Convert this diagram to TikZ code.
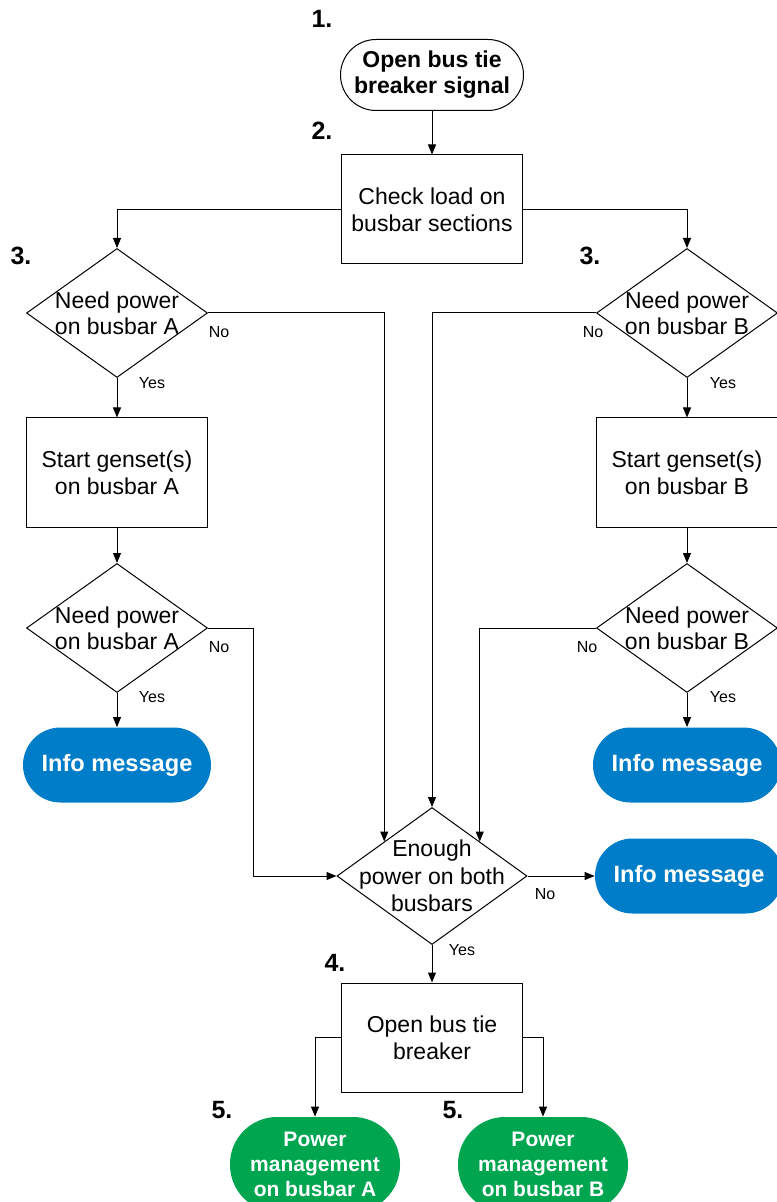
\documentclass[tikz,border=0pt]{standalone}
\usepackage{fontspec}
\setmainfont{Liberation Sans}
\usepackage{tikz}
\usetikzlibrary{positioning,arrows.meta,shapes.geometric}
\definecolor{infoblue}{RGB}{0,125,200}
\definecolor{pmgreen}{RGB}{0,165,80}

\begin{document}
\begin{tikzpicture}[x=0.5pt,y=-0.5pt,
    line/.style={draw=black,line width=0.5pt},
    arr/.style={line,-{Triangle[length=5pt,width=4pt]}},
    process/.style={draw,line width=0.5pt,minimum width=90.5pt,minimum height=54.5pt,inner sep=0pt,align=center,font=\fontsize{11.5}{13.5}\selectfont},
    decision/.style={draw,line width=0.5pt,diamond,minimum width=90.5pt,minimum height=64.5pt,inner sep=0pt},
    dtext/.style={align=center,inner sep=0pt,font=\fontsize{11.5}{13}\selectfont},
    startend/.style={draw,line width=0.5pt,rounded corners=17.75pt,minimum width=91.5pt,minimum height=35.5pt,inner sep=0pt,align=center,font=\fontsize{11.5}{13}\selectfont\bfseries},
    info/.style={fill=infoblue,text=white,rounded corners=18.75pt,minimum width=94pt,minimum height=37.5pt,inner sep=0pt,font=\fontsize{11.8}{13}\selectfont\bfseries},
    pm/.style={fill=pmgreen,text=white,rounded corners=23.5pt,minimum width=85pt,minimum height=47.5pt,inner sep=0pt,align=center,font=\fontsize{10.5}{12.5}\selectfont\bfseries},
    yn/.style={inner sep=0pt,font=\fontsize{8}{9}\selectfont},
    stepnum/.style={inner sep=0pt,font=\fontsize{12.5}{14}\selectfont\bfseries}]
    \useasboundingbox (0,0) rectangle (776,1202);

    % top
    \node[startend] (start) at (432,75) {Open bus tie\\breaker signal};
    \node[process] (check) at (432,209.5) {Check load on\\busbar sections};

    % busbar A side
    \node[decision] (qa1) at (117,313) {};
    \node[dtext] at (qa1) {Need power\\on busbar A};
    \node[process] (sa) at (117,472.5) {Start genset(s)\\on busbar A};
    \node[decision] (qa3) at (117,628) {};
    \node[dtext] at (qa3) {Need power\\on busbar A};
    \node[info] (infoa) at (117,765) {Info message};

    % busbar B side
    \node[decision] (qb1) at (687,313) {};
    \node[dtext] at (qb1) {Need power\\on busbar B};
    \node[process] (sb) at (687,472.5) {Start genset(s)\\on busbar B};
    \node[decision] (qb3) at (687,628) {};
    \node[dtext] at (qb3) {Need power\\on busbar B};
    \node[info] (infob) at (687,765) {Info message};

    % both busbars
    \node[draw,line width=0.5pt,diamond,minimum width=95pt,minimum height=68.5pt,inner sep=0pt] (enough) at (432,876) {};
    \node[dtext,font=\fontsize{11.5}{13.75}\selectfont] at (enough) {Enough\\power on both\\busbars};
    \node[info] (infoc) at (689,876) {Info message};
    \node[process] (open) at (432,1037.5) {Open bus tie\\breaker};
    \node[pm] (pma) at (315,1164.5) {Power\\management\\on busbar A};
    \node[pm] (pmb) at (543,1164.5) {Power\\management\\on busbar B};

    % step numbers
    \node[stepnum] at (322,19) {1.};
    \node[stepnum] at (322,131) {2.};
    \node[stepnum] at (21,256) {3.};
    \node[stepnum] at (590,256) {3.};
    \node[stepnum] at (335,963) {4.};
    \node[stepnum] at (222,1110) {5.};
    \node[stepnum] at (453,1110) {5.};

    % connectors
    \draw[arr] (start) -- (check);
    \draw[arr] (check.west) -| (qa1.north);
    \draw[arr] (check.east) -| (qb1.north);
    \draw[arr] (qa1.south) -- (sa.north);
    \draw[arr] (sa.south) -- (qa3.north);
    \draw[arr] (qa3.south) -- (infoa.north);
    \draw[arr] (qb1.south) -- (sb.north);
    \draw[arr] (sb.south) -- (qb3.north);
    \draw[arr] (qb3.south) -- (infob.north);
    \draw[arr] (qa1.east) -| (enough.north west);
    \draw[arr] (qb1.west) -| (enough.north);
    \draw[arr] (qb3.west) -| (enough.north east);
    \draw[arr] (qa3.east) -- ++(45,0) |- (enough.west);
    \draw[arr] (enough.east) -- (infoc.west);
    \draw[arr] (enough.south) -- (open.north);
    \draw[arr] (open.west) -| (pma.north);
    \draw[arr] (open.east) -| (pmb.north);

    % yes / no
    \node[yn] at (219,332) {No};
    \node[yn] at (152,383) {Yes};
    \node[yn] at (219,647) {No};
    \node[yn] at (152,697) {Yes};
    \node[yn] at (593,332) {No};
    \node[yn] at (723,383) {Yes};
    \node[yn] at (587,647) {No};
    \node[yn] at (723,697) {Yes};
    \node[yn] at (545,894) {No};
    \node[yn] at (462,950) {Yes};
\end{tikzpicture}
\end{document}
